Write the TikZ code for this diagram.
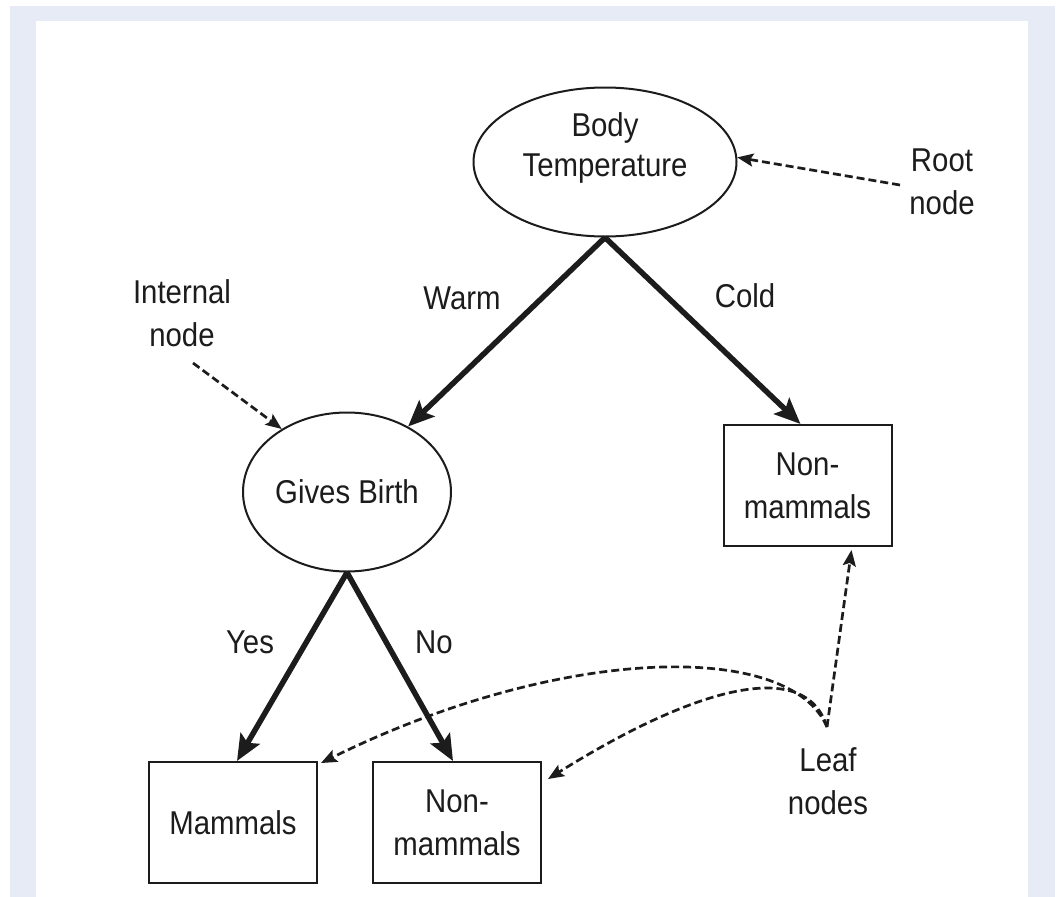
\documentclass[tikz,border=0pt]{standalone}
\usepackage{fontspec}
\setmainfont[FakeStretch=0.89]{Liberation Sans}
\usetikzlibrary{shapes.geometric,arrows.meta,calc}
\definecolor{framebg}{HTML}{E7EBF6}
\definecolor{ink}{HTML}{1C1C1C}
\begin{document}
\begin{tikzpicture}[x=1pt,y=-1pt,
  font=\fontsize{33}{43}\selectfont,
  decision/.style={ellipse, draw=ink, line width=2pt, inner sep=0pt, align=center, text=ink},
  leafbox/.style={rectangle, draw=ink, line width=2pt, minimum width=168pt, minimum height=121pt, inner sep=0pt, align=center, text=ink},
  caption/.style={align=center, text=ink, inner sep=0pt},
  branch/.style={draw=ink, line width=5.5pt, -{Stealth[length=26pt,width=22pt,inset=5pt]}},
  pointer/.style={draw=ink, line width=2.7pt, dash pattern=on 8pt off 4pt, -{Stealth[length=16pt,width=13pt,inset=3pt]}}]
  \useasboundingbox (0,0) rectangle (1058,897);
  % page frame
  \fill[framebg] (10,6) rectangle (1055,897);
  \fill[white] (36,21) rectangle (1028,897);

  % tree nodes
  \node[decision, minimum width=263pt, minimum height=149pt, text depth=34pt,
        font=\fontsize{33}{40}\selectfont] (root) at (605,162) {Body\\Temperature};
  \node[decision, minimum width=208pt, minimum height=159pt] (gb) at (347,492) {Gives Birth};
  \node[leafbox] (nm1) at (807.5,485.5) {Non-\\mammals};
  \node[leafbox] (mam) at (233,822.5) {Mammals};
  \node[leafbox] (nm2) at (457,822.5) {Non-\\mammals};

  % branch labels
  \node[caption] (warm) at (462,298) {Warm};
  \node[caption] (cold) at (745,296) {Cold};
  \node[caption] (yes) at (250,642) {Yes};
  \node[caption] (no) at (434,642) {No};

  % annotations
  \node[caption] (lroot) at (942,182) {Root\\node};
  \node[caption] (lint) at (182,313) {Internal\\node};
  \node[caption] (lleaf) at (828,781) {Leaf\\nodes};
  \coordinate (rootsrc) at (900,185);
  \coordinate (intsrc) at (193,363);
  \coordinate (leafsrc) at (827,727);

  % branches
  \draw[branch] (root.south) -- (gb.47);
  \draw[branch] (root.south) -- ($(nm1.north)+(-7,0)$);
  \draw[branch] (gb.south) -- ($(mam.north)+(4,0)$);
  \draw[branch] (gb.south) -- ($(nm2.north)+(-4,0)$);

  % annotation pointers
  \draw[pointer] (rootsrc) -- (root.2);
  \draw[pointer] (intsrc) -- (gb.136);
  \draw[pointer] (leafsrc) -- ($(nm1.south)+(44,3)$);
  \draw[pointer] (leafsrc) .. controls (790,640) and (560,645) .. ($(mam.north east)+(3,2)$);
  \draw[pointer] (leafsrc) .. controls (805,655) and (690,690) .. ($(nm2.north east)+(6,18)$);
\end{tikzpicture}
\end{document}
